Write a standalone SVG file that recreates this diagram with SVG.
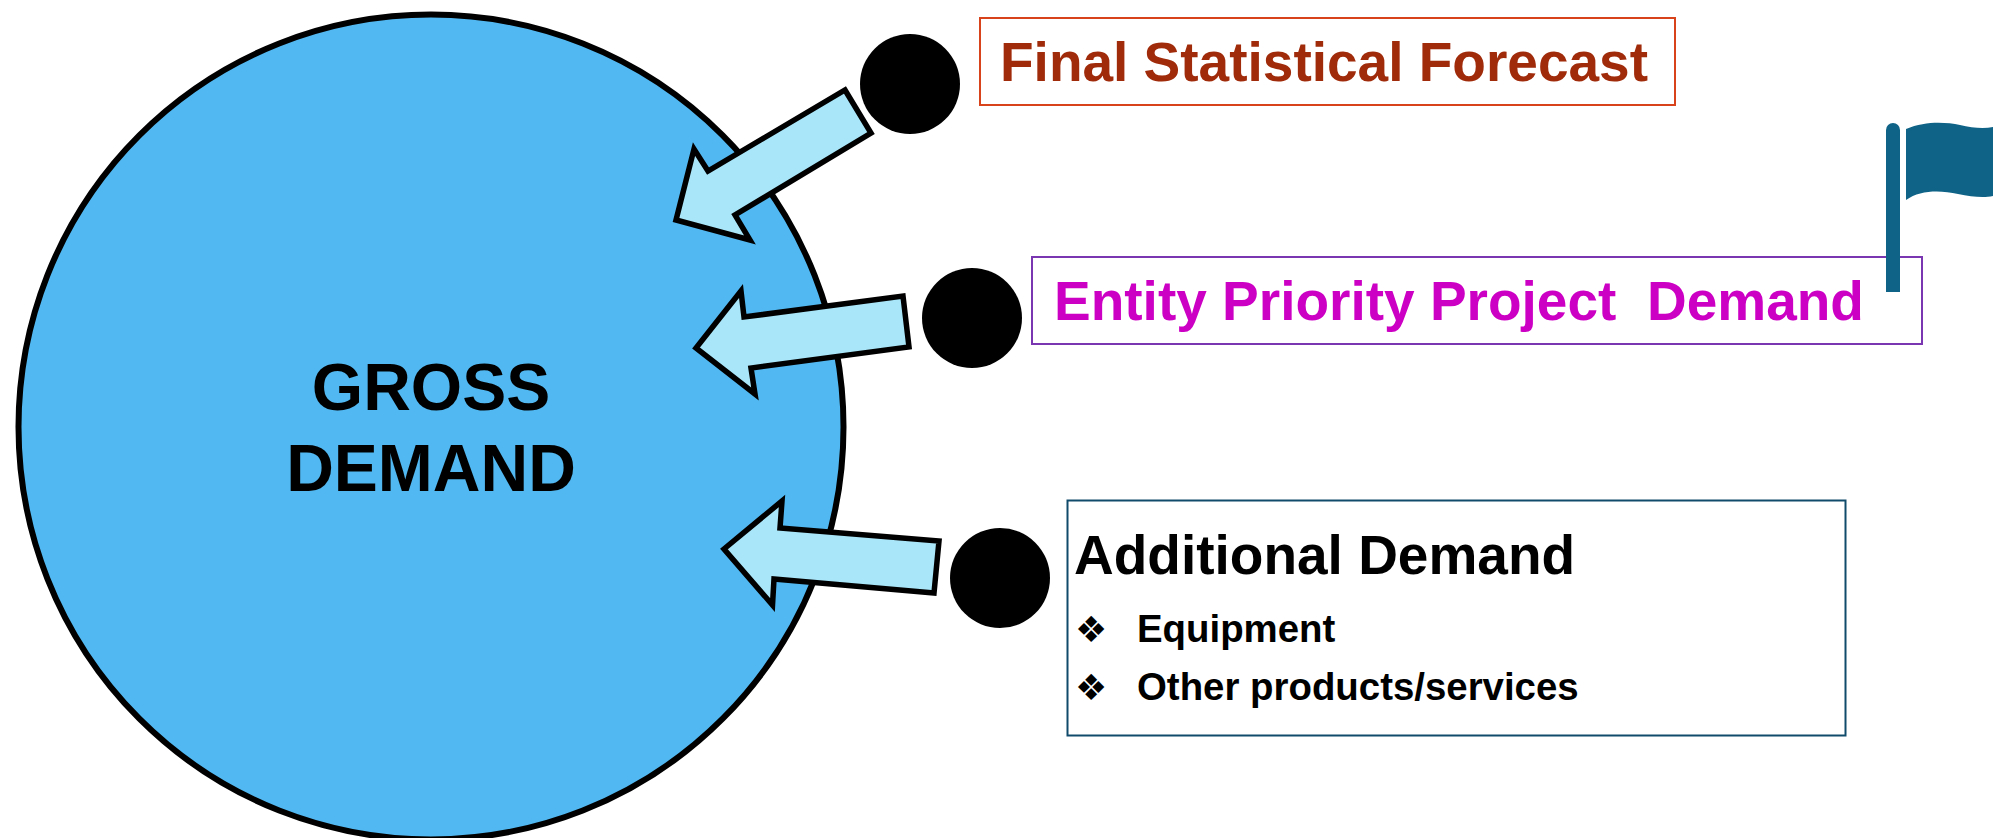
<svg xmlns="http://www.w3.org/2000/svg" width="1993" height="838" viewBox="0 0 1993 838">
<style>
text{font-family:"Liberation Sans",Arial,sans-serif;font-weight:700}
.dot{fill:#000}
.arrow{fill:#a9e6f9;stroke:#000;stroke-width:5.500;stroke-miterlimit:10}
.box{fill:#fff;stroke-width:2}
.flag{fill:#0f6387}
.bullet{font-family:"DejaVu Sans",sans-serif;font-weight:400}
</style>
<rect width="1993" height="838" fill="#fff"/>
<g id="gross-demand">
<circle cx="431" cy="427" r="412.500" fill="#52b8f1" stroke="#000" stroke-width="6"/>
<text x="431" y="410" font-size="66" text-anchor="middle">GROSS</text>
<text x="431" y="491" font-size="66" text-anchor="middle">DEMAND</text>
</g>
<g id="final-statistical-forecast">
<rect class="box" x="980" y="18" width="695" height="87" stroke="#d8431c"/>
<text x="1000" y="81" font-size="55" fill="#a02b0b">Final Statistical Forecast</text>
</g>
<g id="entity-priority-project-demand">
<rect class="box" x="1032" y="257" width="890" height="87" stroke="#7a36b0"/>
<text x="1054" y="320" font-size="55" fill="#cc00c4" xml:space="preserve">Entity Priority Project  Demand</text>
</g>
<g id="additional-demand">
<rect class="box" x="1067.500" y="500.500" width="778" height="235" stroke="#114b6b"/>
<text x="1074" y="574" font-size="55" fill="#000">Additional Demand</text>
<text class="bullet" x="1075" y="642" font-size="36" fill="#000">❖</text>
<text x="1137" y="642" font-size="38.400" fill="#000">Equipment</text>
<text class="bullet" x="1075" y="700" font-size="36" fill="#000">❖</text>
<text x="1137" y="700" font-size="38.400" fill="#000">Other products/services</text>
</g>
<g id="marker-1"><circle class="dot" cx="910" cy="84" r="50"/></g>
<g id="marker-2"><circle class="dot" cx="972" cy="318" r="50"/></g>
<g id="marker-3"><circle class="dot" cx="1000" cy="578" r="50"/></g>
<g id="connectors">
<polygon class="arrow" points="845,90 871,133 735,215 750,240 676,220 694,149 708,171"/>
<polygon class="arrow" points="903,296 909,347 751,368 755,394 696,348 741,291 744,317"/>
<polygon class="arrow" points="939,541 934,593 774,579 772.500,605 724,549 782,501 780,528"/>
</g>
<g id="flag">
<path class="flag" d="M1886,292V130a7,7 0 0 1 14,0V292Z"/>
<path class="flag" d="M1906,129C1925,121 1945,122 1960,125C1972,128 1984,129 1993,127V196C1984,198 1972,197 1958,194C1940,190 1920,190 1906,200Z"/>
</g>
</svg>
